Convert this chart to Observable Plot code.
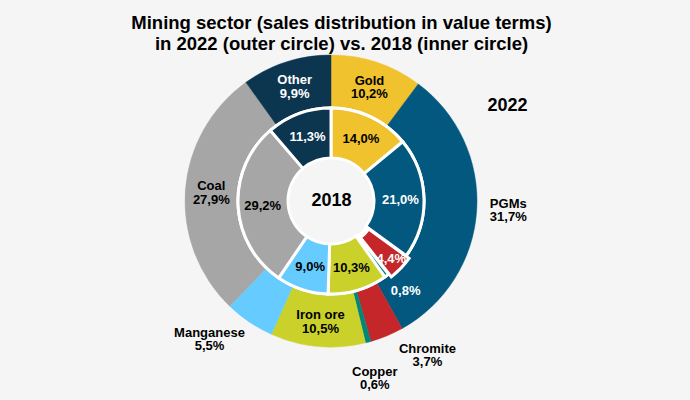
<!DOCTYPE html>
<html><head><meta charset="utf-8">
<script src="https://cdn.jsdelivr.net/npm/d3@7"></script>
<script src="https://cdn.jsdelivr.net/npm/@observablehq/plot@0.6"></script>
<style>
html,body{margin:0;padding:0;background:#f5f5f5;}
#chart{width:690px;height:400px;}
</style></head><body><div id="chart"></div>
<script>
// ---- data ----
const categories = ["Gold", "PGMs", "Chromite", "Copper", "Iron ore", "Manganese", "Coal", "Other"];
const share2022 = [10.2, 31.7, 3.7, 0.6, 10.5, 5.5, 27.9, 9.9];   // outer circle
const share2018 = [14.0, 21.0, 4.4, 0.8, 10.3, 9.0, 29.2, 11.3];  // inner circle
const titleLines = ["Mining sector (sales distribution in value terms)", "in 2022 (outer circle) vs. 2018 (inner circle)"];
const innerYear = "2018";
const outerYear = "2022";

// ---- style / layout ----
const colors = ["#f0c22e", "#02587f", "#c4262a", "#00877a", "#c9d12a", "#66ccff", "#a6a6a6", "#0c3550"];
const FONT = "'Liberation Sans', Arial, Helvetica, sans-serif";
const RING = {outerOuter: 146, outerInner: 94.5, innerOuter: 93, innerInner: 43};
const outerLabelRadius = 120.5, innerLabelRadius = 69;
// outside / nudged labels: [radius, angle shift in degrees]
const outerLabelPlace = {PGMs: [177, -1], Chromite: [181, -9.5], Copper: [182, 1], Manganese: [184, 7.5]};
const innerLabelPlace = {Chromite: [83, 0], Copper: [116, -3]};
const innerExplode = {Chromite: 4};
const whiteOuter = new Set(["Other"]);
const whiteInner = new Set(["Other", "PGMs", "Chromite", "Copper"]);

const fmt = v => d3.format(".1f")(v).replace(".", ",");
const pie = d3.pie().sort(null).value(d => d.value).startAngle(0).endAngle(2 * Math.PI);
const outerArcs = pie(categories.map((c, i) => ({category: c, value: share2022[i], color: colors[i]})));
const innerArcs = pie(categories.map((c, i) => ({category: c, value: share2018[i], color: colors[i]})));

function polar(r, a) { return [r * Math.sin(a), -r * Math.cos(a)]; }

const outerLabels = outerArcs.map(a => {
  const c = a.data.category;
  const [r, shift] = outerLabelPlace[c] || [outerLabelRadius, 0];
  const [x, y] = polar(r, (a.startAngle + a.endAngle) / 2 + shift * Math.PI / 180);
  return {x, y, text: c + "\n" + fmt(a.data.value) + "%", fill: whiteOuter.has(c) ? "#ffffff" : "#000000"};
});
const innerLabels = innerArcs.map(a => {
  const c = a.data.category;
  const [r, shift] = innerLabelPlace[c] || [innerLabelRadius, 0];
  const [x, y] = polar(r, (a.startAngle + a.endAngle) / 2 + shift * Math.PI / 180);
  return {x, y, text: fmt(a.data.value) + "%", fill: whiteInner.has(c) ? "#ffffff" : "#000000"};
});

// ring mark drawn through Plot's x/y scales
function rings(index, scales) {
  const {x, y} = scales;
  const cx = x(0), cy = y(0), k = x(1) - x(0);
  const g = d3.create("svg:g").attr("transform", `translate(${cx},${cy})`);
  const outerArc = d3.arc().innerRadius(RING.outerInner * k).outerRadius(RING.outerOuter * k);
  g.append("g").selectAll("path").data(outerArcs).join("path")
    .attr("d", outerArc).attr("fill", d => d.data.color)
    .attr("stroke", d => d.data.color).attr("stroke-width", 0.5);
  // white separator circle between rings
  g.append("circle").attr("r", (RING.innerOuter + 1.5) * k).attr("fill", "#ffffff");
  g.append("circle").attr("r", RING.innerInner * k).attr("fill", "#f5f5f5");
  const innerArc = d3.arc().innerRadius(RING.innerInner * k).outerRadius(RING.innerOuter * k);
  g.append("g").selectAll("path").data(innerArcs).join("path")
    .attr("d", innerArc).attr("fill", d => d.data.color)
    .attr("stroke", "#ffffff").attr("stroke-width", 3).attr("stroke-linejoin", "miter")
    .attr("transform", d => {
      const e = innerExplode[d.data.category] || 0;
      const [dx, dy] = polar(e * k, (d.startAngle + d.endAngle) / 2);
      return `translate(${dx},${dy})`;
    });
  g.append("circle").attr("r", (RING.innerInner - 1.5) * k).attr("fill", "#f5f5f5");
  return g.node();
}

const textBase = {fontFamily: FONT, fontWeight: "bold"};

const chart = Plot.plot({
  width: 690,
  height: 400,
  margin: 0,
  style: {background: "#f5f5f5", fontFamily: FONT},
  x: {domain: [-331, 359], range: [0, 690], axis: null},
  y: {domain: [-201, 199], range: [0, 400], axis: null},
  marks: [
    rings,
    Plot.text(outerLabels, {...textBase, x: "x", y: "y", text: "text", fill: "fill", fontSize: 13, lineHeight: 1.05}),
    Plot.text(innerLabels, {...textBase, x: "x", y: "y", text: "text", fill: "fill", fontSize: 13}),
    Plot.text([innerYear], {...textBase, x: () => 0, y: () => 0, text: d => d, fill: "#000000", fontSize: 18, dy: -1}),
    Plot.text([outerYear], {...textBase, frameAnchor: "top-right", textAnchor: "middle", lineAnchor: "middle", dx: -183, dy: 105, text: d => d, fill: "#000000", fontSize: 18}),
    Plot.text([titleLines.join("\n")], {...textBase, frameAnchor: "top", lineAnchor: "top", dx: -4, dy: 13.6, text: d => d, fill: "#000000", fontSize: 18.5, lineHeight: 1.135})
  ]
});
document.getElementById("chart").append(chart);
</script>
</body></html>
